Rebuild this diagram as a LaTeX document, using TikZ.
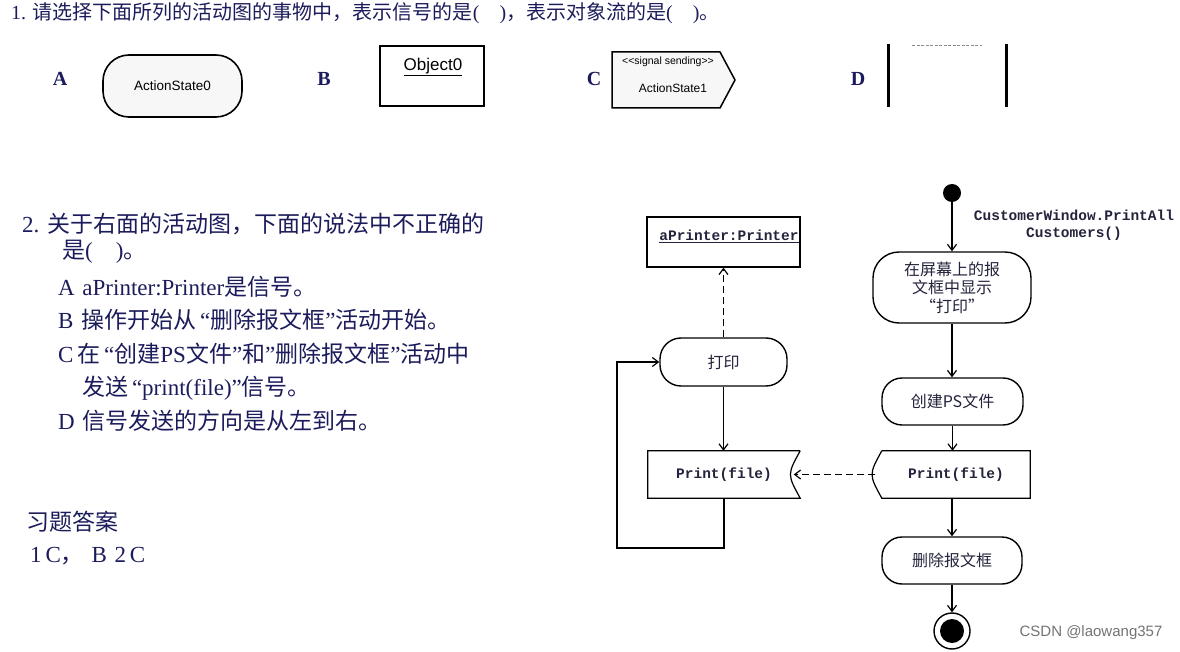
\documentclass[tikz,border=0pt]{standalone}
\usepackage{fontspec}
\setmainfont{Liberation Serif}
\setsansfont{Liberation Sans}
\newfontfamily\cjk{Noto Sans CJK SC}
\newfontfamily\monob{Liberation Mono}
\usetikzlibrary{arrows.meta,calc}
\definecolor{navy}{RGB}{28,28,92}
\definecolor{ink}{RGB}{35,35,60}
\newcommand{\zh}[1]{{\cjk #1}}
\begin{document}
\begin{tikzpicture}[x=1pt,y=-1pt,
  qtext/.style={anchor=west,inner sep=0pt,text=navy,font=\fontsize{23}{26}\selectfont},
  lbl/.style={inner sep=0pt,text=navy,font=\fontsize{20}{22}\selectfont\bfseries},
  act/.style={draw,line width=1.4pt,rounded corners=22pt,inner sep=1pt,align=center,text=ink,font=\fontsize{16}{18.5}\selectfont\cjk},
  monot/.style={inner sep=0pt,text=ink,font=\fontsize{14.5}{17}\selectfont\monob\bfseries},
  arr/.style={line width=1.2pt,-{Straight Barb[length=6pt,width=9pt]}},
  ln/.style={line width=1.2pt}]
\useasboundingbox (0,0) rectangle (1180,652);

% ---------- question 1 ----------
\node[qtext,font=\fontsize{20}{22}\selectfont] (q1) at (11,13) {1. \zh{请选择下面所列的活动图的事物中，表示信号的是}(\quad)\zh{，表示对象流的是}(\quad)\zh{。}};

\node[lbl] (la) at (60,79) {A};
\node[lbl] (lb) at (324,79) {B};
\node[lbl] (lc) at (594,79) {C};
\node[lbl] (ld) at (858,79) {D};

\node[draw,line width=1.6pt,fill=black!3,rounded corners=26pt,minimum width=139pt,minimum height=62pt,font=\sffamily\fontsize{13.5}{15}\selectfont] (sa) at (172.5,86) {ActionState0};

\node[draw,line width=2.6pt,minimum width=104pt,minimum height=60pt] (sb) at (432,76) {};
\node[inner sep=0pt,font=\sffamily\fontsize{17}{19}\selectfont] (sbt) at (433,67) {\underline{Object0}};

\draw[line width=1.5pt,fill=black!3] (612,52) -- (720,52) -- (735,80) -- (720,108) -- (612,108) -- cycle;
\node[inner sep=0pt,font=\sffamily\fontsize{10.5}{12}\selectfont] (sct) at (668,62) {<\kern0pt<signal sending>\kern0pt>};
\node[inner sep=0pt,font=\sffamily\fontsize{12}{14}\selectfont] (scu) at (673,88) {ActionState1};

\draw[line width=3pt] (888,44) -- (888,107);
\draw[line width=3pt] (1006,44) -- (1006,107);
\draw[black!45,line width=1pt,dash pattern=on 3pt off 1.5pt] (912,46) -- (982,46);

% ---------- question 2 ----------
\node[qtext] (q2a) at (22,224) {2. \zh{关于右面的活动图，下面的说法中不正确的}};
\node[qtext] (q2b) at (62,252) {\zh{是}(\quad)\zh{。}};
\node[qtext] (q2c) at (58,287) {A\,\,aPrinter:Printer\zh{是信号。}};
\node[qtext] (q2d) at (58,320) {B\,\,\zh{操作开始从}\,“\zh{删除报文框}”\zh{活动开始。}};
\node[qtext] (q2e) at (58,354) {C\,\zh{在}\,“\zh{创建}PS\zh{文件}”\zh{和}”\zh{删除报文框}”\zh{活动中}};
\node[qtext] (q2f) at (82,388) {\zh{发送}\,“print(file)”\zh{信号。}};
\node[qtext] (q2g) at (58,421) {D\,\,\zh{信号发送的方向是从左到右。}};

\node[qtext] (ans) at (26,522) {\zh{习题答案}};
\node[qtext] (ansv) at (30,556) {1\,C\zh{，}\,\,B\,\,2\,C};

% ---------- activity diagram ----------
\node[circle,fill=black,inner sep=0pt,minimum size=18pt] (start) at (952,193) {};
\node[monot,align=center] (cw) at (1074,225.5) {CustomerWindow.PrintAll\\Customers()};

\node[act,minimum width=158pt,minimum height=71pt,rounded corners=26pt] (a1) at (952,287.5) {在屏幕上的报\\文框中显示\\“打印”};
\node[act,minimum width=141pt,minimum height=47pt,rounded corners=20pt] (a2) at (952.5,401.5) {创建PS文件};
\node[act,minimum width=140pt,minimum height=47pt,rounded corners=20pt] (a3) at (952,560.5) {删除报文框};
\node[act,minimum width=127pt,minimum height=48pt,rounded corners=21pt] (dy) at (723.5,362) {打印};

\node[draw,ln,minimum width=153pt,minimum height=50pt] (obj) at (723.5,242) {};
\node[monot] (objt) at (729,236) {\underline{aPrinter:Printer}};

% left Print(file) box (signal receipt)
\node[monot,minimum width=152pt,minimum height=47pt] (pl) at (724,474.5) {Print(file)};
\draw[ln] (pl.north east) -- (pl.north west) -- (pl.south west) -- (pl.south east)
  .. controls ($(pl.east)+(-13,0)$) .. (pl.north east);
% right Print(file) box (signal sending)
\node[monot,minimum width=148pt,minimum height=47pt] (pr) at (956,474.5) {Print(file)};
\draw[ln] (pr.north west) -- (pr.north east) -- (pr.south east) -- (pr.south west)
  .. controls ($(pr.west)+(-13,0)$) .. (pr.north west);
\coordinate (prw) at ($(pr.west)+(-6.5,0)$);
\coordinate (plw) at ($(pl.east)+(-6.5,0)$);

\node[circle,draw,line width=1.4pt,inner sep=0pt,minimum size=36pt] (end) at (952,631) {};
\node[circle,fill=black,inner sep=0pt,minimum size=24pt] (endin) at (952,631) {};

\draw[arr] (start) -- (a1);
\draw[arr] (a1) -- (a1.south |- a2.north);
\draw[arr] (a2.south) -- (a2.south |- pr.north);
\draw[arr] (pr.south -| a3.north) -- (a3.north);
\draw[arr] (a3) -- (end);
\draw[arr] (dy.south) -- (dy.south |- pl.north);
\draw[arr,dash pattern=on 7pt off 4pt] (dy.north) -- (dy.north |- obj.south);
\draw[arr,dash pattern=on 7pt off 4pt] (prw) -- (plw);
\coordinate (lp) at (617,548);
\draw[arr] (pl.south) |- (lp) |- (dy.west);

\node[inner sep=0pt,text=black!55,font=\sffamily\fontsize{15}{17}\selectfont] (wm) at (1091,633) {CSDN @laowang357};
\end{tikzpicture}
\end{document}
